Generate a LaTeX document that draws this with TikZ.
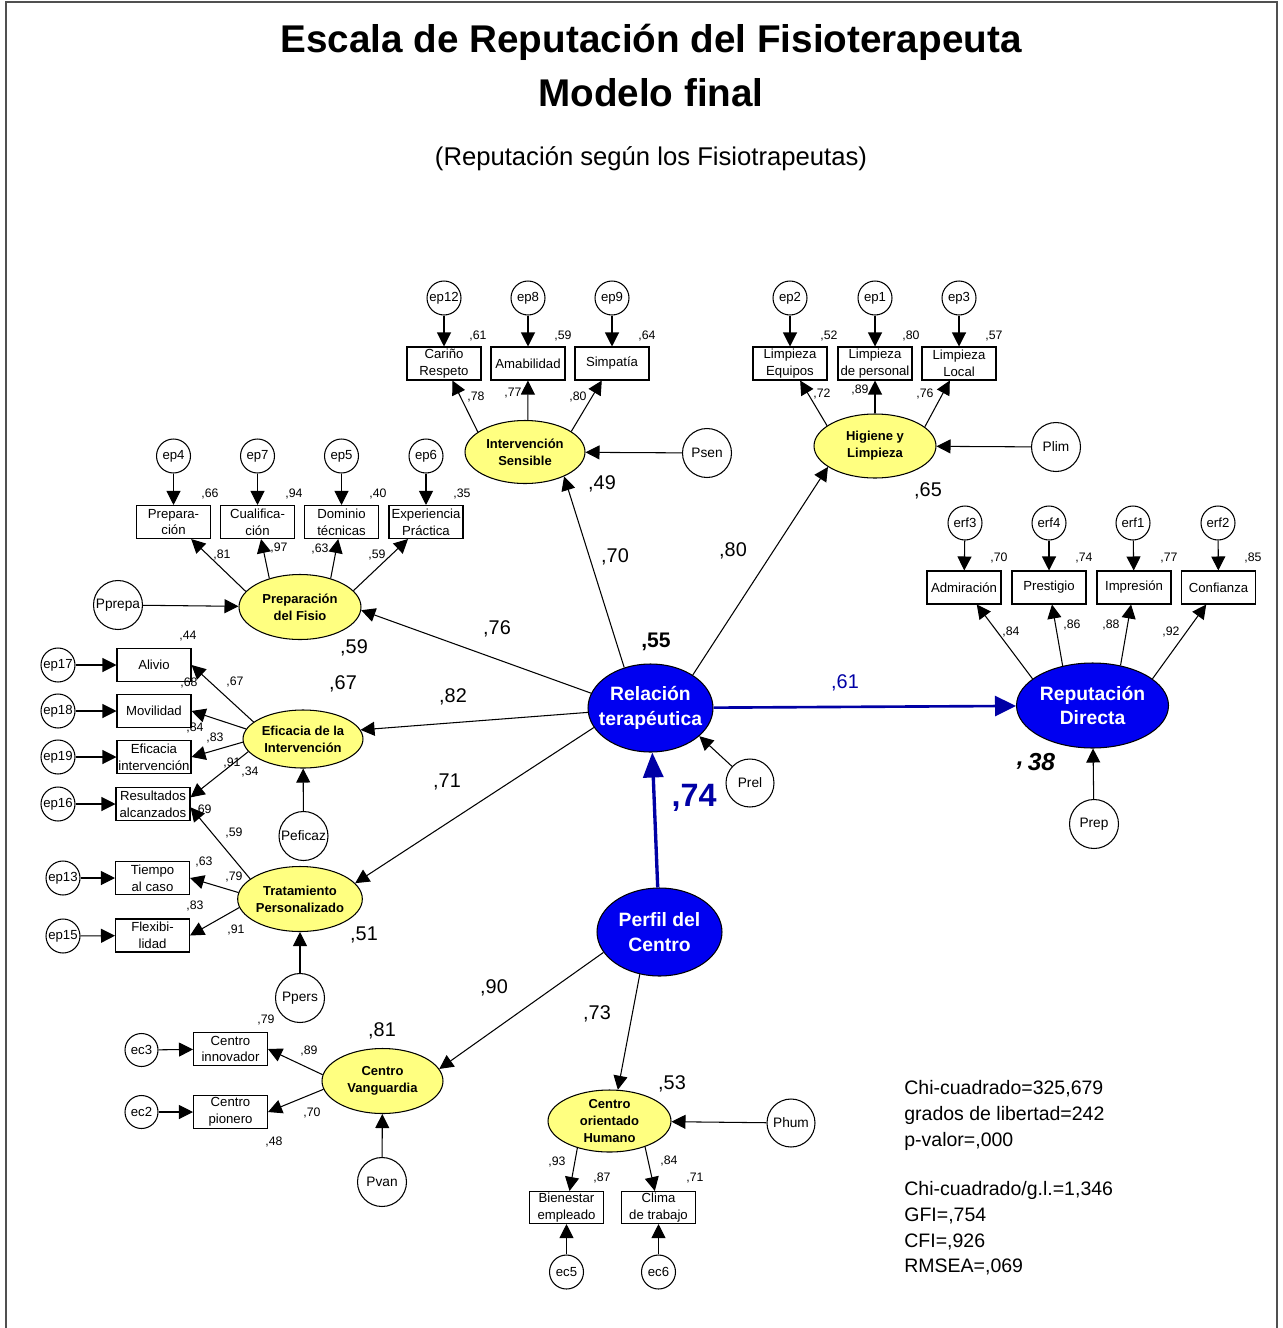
\documentclass[tikz,border=0pt]{standalone}
\usepackage{fontspec}
\setmainfont{Liberation Sans}
\usetikzlibrary{shapes.geometric,arrows.meta}
\definecolor{latfill}{RGB}{255,255,128}
\definecolor{bigfill}{RGB}{0,0,240}
\definecolor{pathblue}{RGB}{0,0,165}
\definecolor{framegray}{RGB}{80,80,80}
\newcommand{\lb}[4][lbl]{\node[#1] (#2) at (#3) {#4};}
\begin{document}
\begin{tikzpicture}[x=0.02cm,y=-0.02cm,
  lat/.style={ellipse, draw, fill=latfill, inner sep=0, line width=0.6pt,
    font=\fontsize{7.4}{9.6}\selectfont\bfseries, align=center},
  big/.style={ellipse, draw, fill=bigfill, inner sep=0, line width=0.6pt},
  bigtext/.style={text=white, font=\fontsize{11}{14.2}\selectfont\bfseries, align=center, inner sep=0},
  obs/.style={rectangle, draw, minimum width=1.48cm, minimum height=0.66cm, inner sep=0,
    line width=0.6pt, font=\fontsize{7.5}{9.6}\selectfont, align=center},
  err/.style={circle, draw, minimum size=0.68cm, inner sep=0, line width=0.6pt,
    font=\fontsize{7.5}{9}\selectfont},
  dist/.style={circle, draw, minimum size=0.98cm, inner sep=0, line width=0.6pt,
    font=\fontsize{7.8}{9}\selectfont},
  arr/.style={-{Triangle[length=0.28cm,width=0.28cm]}, line width=0.6pt},
  barr/.style={pathblue, -{Triangle[length=0.42cm,width=0.4cm]}, line width=1.5pt},
  bbarr/.style={pathblue, -{Triangle[length=0.5cm,width=0.4cm]}, line width=1.9pt},
  lbl/.style={font=\fontsize{7}{8}\selectfont, inner sep=0},
  rsq/.style={font=\fontsize{11.3}{13}\selectfont, inner sep=0},
  stat/.style={anchor=base west, font=\fontsize{11.1}{13}\selectfont, inner sep=0}]

\useasboundingbox (0,0) rectangle (1282,1328);
\draw[framegray, line width=1.2pt] (6,1330) -- (6,2) -- (1277,2) -- (1277,1330);

% titles
\node[font=\fontsize{22}{26}\selectfont\bfseries] (title1) at (651,42) {Escala de Reputación del Fisioterapeuta};
\node[font=\fontsize{22}{26}\selectfont\bfseries] (title2) at (651,93) {Modelo final};
\node[font=\fontsize{14.6}{17}\selectfont] (subtitle) at (651,159) {(Reputación según los Fisiotrapeutas)};

% central constructs (text set as centre labels so the ellipse keeps its size)
\node[big, minimum width=2.5cm, minimum height=1.76cm,
  label={[bigtext]center:Relación\\terapéutica}] (RT) at (650.5,708) {};
\node[big, minimum width=2.5cm, minimum height=1.76cm,
  label={[bigtext]center:Perfil del\\Centro}] (PC) at (659.5,932) {};
\node[big, minimum width=3.04cm, minimum height=1.7cm,
  label={[bigtext]center:Reputación\\Directa}] (RD) at (1092.5,705.5) {};
\node[dist, minimum size=0.96cm] (Prel) at (750,783) {Prel};

% Intervención Sensible
\node[lat, minimum width=2.4cm, minimum height=1.26cm] (IS) at (525,452) {Intervención\\Sensible};
\node[obs] (bcar) at (444,363.5) {Cariño\\Respeto};
\node[obs] (bama) at (528,363.5) {Amabilidad};
\node[obs] (bsim) at (612,363.5) {Simpatía};
\node[err] (ep12) at (444,298) {ep12};
\node[err] (ep8) at (528,298) {ep8};
\node[err] (ep9) at (612,298) {ep9};
\node[dist] (Psen) at (707,453) {Psen};

% Higiene y Limpieza
\node[lat, minimum width=2.44cm, minimum height=1.28cm] (HL) at (875,446) {Higiene y\\Limpieza};
\node[obs] (bleq) at (790,363.5) {Limpieza\\Equipos};
\node[obs] (blpe) at (875,363.5) {Limpieza\\de personal};
\node[obs] (bllo) at (959,363.5) {Limpieza\\Local};
\node[err] (ep2) at (790,298) {ep2};
\node[err] (ep1) at (875,298) {ep1};
\node[err] (ep3) at (959,298) {ep3};
\node[dist] (Plim) at (1056,447) {Plim};

% Preparación del Fisio
\node[lat, minimum width=2.44cm, minimum height=1.3cm] (PF) at (300,607) {Preparación\\del Fisio};
\node[obs] (bpre) at (173.5,522) {Prepara-\\ción};
\node[obs] (bcua) at (257.5,522) {Cualifica-\\ción};
\node[obs] (bdom) at (341.5,522) {Dominio\\técnicas};
\node[obs] (bexp) at (426,522) {Experiencia\\Práctica};
\node[err] (ep4) at (173.5,456) {ep4};
\node[err] (ep7) at (257.5,456) {ep7};
\node[err] (ep5) at (341.5,456) {ep5};
\node[err] (ep6) at (426,456) {ep6};
\node[dist] (Pprepa) at (118,605) {Pprepa};

% Eficacia de la Intervención
\node[lat, minimum width=2.4cm, minimum height=1.16cm] (EI) at (303,739) {Eficacia de la\\Intervención};
\node[obs] (bali) at (154,665) {Alivio};
\node[obs] (bmov) at (154,711) {Movilidad};
\node[obs] (befi) at (154,757) {Eficacia\\intervención};
\node[obs] (bres) at (153,804) {Resultados\\alcanzados};
\node[err] (ep17) at (58,665) {ep17};
\node[err] (ep18) at (58,711) {ep18};
\node[err] (ep19) at (58,757) {ep19};
\node[err] (ep16) at (58,804) {ep16};
\node[dist] (Peficaz) at (303.5,836) {Peficaz};

% Tratamiento Personalizado
\node[lat, minimum width=2.44cm, minimum height=1.3cm] (TP) at (300,899) {Tratamiento\\Personalizado};
\node[obs] (btie) at (152.5,878) {Tiempo\\al caso};
\node[obs] (bfle) at (152.5,935.5) {Flexibi-\\lidad};
\node[err] (ep13) at (63,878) {ep13};
\node[err] (ep15) at (63,936) {ep15};
\node[dist] (Ppers) at (300,998) {Ppers};

% Centro Vanguardia
\node[lat, minimum width=2.42cm, minimum height=1.3cm] (CV) at (382.5,1081) {Centro\\Vanguardia};
\node[obs] (binn) at (230.5,1049) {Centro\\innovador};
\node[obs] (bpio) at (230.5,1112) {Centro\\pionero};
\node[err, minimum size=0.66cm] (ec3) at (141.5,1050) {ec3};
\node[err, minimum size=0.66cm] (ec2) at (141.5,1112) {ec2};
\node[dist] (Pvan) at (382,1182) {Pvan};

% Centro orientado Humano
\node[lat, minimum width=2.46cm, minimum height=1.24cm] (CH) at (609.5,1121) {Centro\\orientado\\Humano};
\node[obs, minimum height=0.64cm] (bbie) at (566.5,1207.5) {Bienestar\\empleado};
\node[obs, minimum height=0.64cm] (bcli) at (658.5,1207.5) {Clima\\de trabajo};
\node[err] (ec5) at (566.5,1272) {ec5};
\node[err] (ec6) at (658.5,1272) {ec6};
\node[dist, minimum size=0.96cm] (Phum) at (791,1123) {Phum};

% Reputación Directa indicators
\node[obs] (badm) at (964,587.5) {Admiración};
\node[obs] (bpst) at (1049,587.5) {Prestigio};
\node[obs] (bimp) at (1134,587.5) {Impresión};
\node[obs] (bcon) at (1218.5,587.5) {Confianza};
\node[err] (erf3) at (965,523) {erf3};
\node[err] (erf4) at (1049,523) {erf4};
\node[err] (erf1) at (1133,523) {erf1};
\node[err] (erf2) at (1218,523) {erf2};
\node[dist] (Prep) at (1094,824) {Prep};

% ---- connectors ----
% error terms to indicators
\foreach \e/\b in {ep12/bcar,ep8/bama,ep9/bsim,ep2/bleq,ep1/blpe,ep3/bllo,
  ep4/bpre,ep7/bcua,ep5/bdom,ep6/bexp,ep17/bali,ep18/bmov,ep19/befi,ep16/bres,
  ep13/btie,ep15/bfle,ec3/binn,ec2/bpio,ec5/bbie,ec6/bcli,
  erf3/badm,erf4/bpst,erf1/bimp,erf2/bcon}
  \draw[arr] (\e) -- (\b);
% disturbances
\foreach \p/\l in {Psen/IS,Plim/HL,Pprepa/PF,Peficaz/EI,Ppers/TP,Pvan/CV,Phum/CH,Prep/RD}
  \draw[arr] (\p) -- (\l);
\draw[arr] (Prel) -- (RT.330.6);

% loadings
\draw[arr] (IS.157) -- (bcar);
\draw[arr] (IS.85) -- (bama);
\draw[arr] (IS.24) -- (bsim);
\draw[arr] (HL.157) -- (bleq);
\draw[arr] (HL.90) -- (blpe);
\draw[arr] (HL.21) -- (bllo);
\draw[arr] (PF.164) -- (bpre);
\draw[arr] (PF.137) -- (bcua);
\draw[arr] (PF.43) -- (bdom);
\draw[arr] (PF.17) -- (bexp);
\draw[arr] (EI.161) -- (bali.east);
\draw[arr] (EI.170.5) -- (bmov.east);
\draw[arr] (EI.183) -- (befi.east);
\draw[arr] (EI.193) -- (bres.10);
\draw[arr] (TP.158) -- (bres.-5);
\draw[arr] (TP.174) -- (btie.east);
\draw[arr] (TP.188.5) -- (bfle.east);
\draw[arr] (CV.174) -- (binn.east);
\draw[arr] (CV.188.6) -- (bpio.east);
\draw[arr] (CH.220.6) -- (bbie);
\draw[arr] (CH.324.5) -- (bcli);
\draw[arr] (RD.156) -- (badm);
\draw[arr] (RD.127) -- (bpst);
\draw[arr] (RD.55) -- (bimp);
\draw[arr] (RD.24) -- (bcon);

% structural paths
\draw[arr] (RT.123) -- (IS.328);
\draw[arr] (RT.38.5) -- (HL.204);
\draw[arr] (RT.166) -- (PF.357);
\draw[arr] (RT.184) -- (EI.9);
\draw[arr] (RT.199.5) -- (TP.16.5);
\draw[arr] (PC.200) -- (CV.12.7);
\draw[arr] (PC.245.6) -- (CH.75);
\draw[barr] (RT) -- (RD);
\draw[bbarr] (PC) -- (RT);

% ---- coefficients ----
% squared multiple correlations of indicators
\lb{r1}{478,336}{,61} \lb{r2}{563,336}{,59} \lb{r3}{647,336}{,64}
\lb{r4}{829,336}{,52} \lb{r5}{911,336}{,80} \lb{r6}{994,336}{,57}
\lb{r7}{210,494}{,66} \lb{r8}{294,494}{,94} \lb{r9}{378,494}{,40} \lb{r10}{462,494}{,35}
\lb{r11}{999,558}{,70} \lb{r12}{1084,558}{,74} \lb{r13}{1169,558}{,77} \lb{r14}{1253,558}{,85}
\lb{r15}{188,636}{,44} \lb{r16}{189,683}{,68} \lb{r17}{195,728}{,84} \lb{r18}{203,810}{,69}
\lb{r19}{204,862}{,63} \lb{r20}{195,906}{,83}
\lb{r21}{266,1020}{,79} \lb{r22}{274,1142}{,48}
\lb{r23}{602,1178}{,87} \lb{r24}{695,1178}{,71}
% factor loadings
\lb{w1}{476,397}{,78} \lb{w2}{513,393}{,77} \lb{w3}{578,397}{,80}
\lb{w4}{822,394}{,72} \lb{w5}{860,390}{,89} \lb{w6}{925,394}{,76}
\lb{w7}{222,555}{,81} \lb{w8}{279,548}{,97} \lb{w9}{320,549}{,63} \lb{w10}{377,555}{,59}
\lb{w11}{235,682}{,67} \lb{w12}{215,738}{,83} \lb{w13}{232,763}{,91} \lb{w14}{250,772}{,34}
\lb{w15}{234,833}{,59} \lb{w16}{234,877}{,79} \lb{w17}{236,930}{,91}
\lb{w18}{309,1051}{,89} \lb{w19}{312,1113}{,70}
\lb{w20}{557,1162}{,93} \lb{w21}{669,1161}{,84}
\lb{w22}{1011,632}{,84} \lb{w23}{1072,625}{,86} \lb{w24}{1111,625}{,88} \lb{w25}{1171,632}{,92}
% structural coefficients and explained variance of factors
\lb[rsq]{s1}{615,557}{,70} \lb[rsq]{s2}{733,551}{,80} \lb[rsq]{s3}{497,629}{,76}
\lb[rsq]{s4}{453,697}{,82} \lb[rsq]{s5}{447,782}{,71} \lb[rsq]{s6}{494,988}{,90}
\lb[rsq]{s7}{597,1014}{,73}
\lb[rsq]{q1}{602,484}{,49} \lb[rsq]{q2}{928,491}{,65} \lb[rsq]{q3}{354,648}{,59}
\lb[rsq]{q4}{343,684}{,67} \lb[rsq]{q5}{364,935}{,51} \lb[rsq]{q6}{382,1031}{,81}
\lb[rsq]{q7}{672,1084}{,53}
\node[font=\fontsize{12}{14}\selectfont\bfseries, inner sep=0] (q8) at (656,642) {,55};
\node[font=\fontsize{14}{16}\selectfont\bfseries\itshape, inner sep=0] (q9) at (1036,762) {\raisebox{0.22em}{,}\,38};
\node[font=\fontsize{18.4}{20}\selectfont\bfseries, text=pathblue, inner sep=0] (s8) at (694,798) {,74};
\node[font=\fontsize{11.3}{13}\selectfont, text=pathblue, inner sep=0] (s9) at (845,683) {,61};

% fit statistics
\node[stat] (f1) at (904,1094) {Chi-cuadrado=325,679};
\node[stat] (f2) at (904,1120) {grados de libertad=242};
\node[stat] (f3) at (904,1146) {p-valor=,000};
\node[stat] (f4) at (904,1195) {Chi-cuadrado/g.l.=1,346};
\node[stat] (f5) at (904,1221) {GFI=,754};
\node[stat] (f6) at (904,1247) {CFI=,926};
\node[stat] (f7) at (904,1272) {RMSEA=,069};
\end{tikzpicture}
\end{document}
